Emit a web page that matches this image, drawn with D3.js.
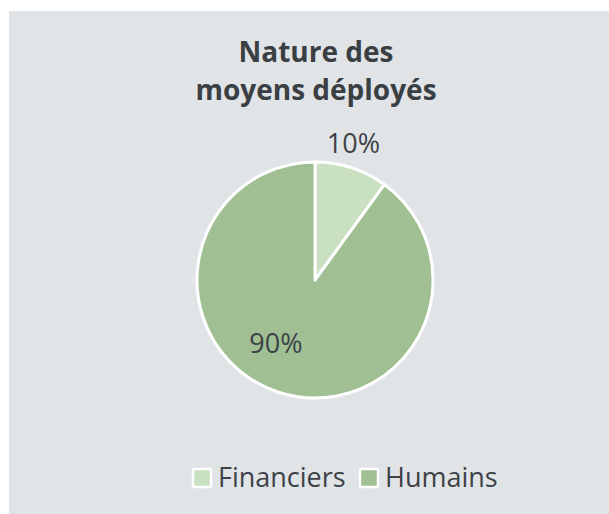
<!DOCTYPE html>
<html>
<head>
<meta charset="utf-8">
<script src="https://cdn.jsdelivr.net/npm/d3@7"></script>
<style>
  body { margin: 0; background: #fff; }
  svg { display: block; font-family: "Open Sans", sans-serif; }
</style>
</head>
<body>
<svg width="609" height="514"></svg>
<script>
const categories = ["Financiers", "Humains"];
const values = [10, 90];
const colors = ["#c9e0c1", "#a0bf93"];
const titleLines = ["Nature des", "moyens déployés"];

const svg = d3.select("svg"),
    width = 609,
    height = 514;

const textColor = "#3d4247";

svg.append("rect")
    .attr("x", 9).attr("y", 11)
    .attr("width", 600).attr("height", 503)
    .attr("fill", "#e1e4e7");

svg.append("text")
    .attr("text-anchor", "middle")
    .attr("fill", "#3a3f44")
    .attr("font-size", 28)
    .attr("font-weight", "bold")
    .selectAll("tspan")
    .data(titleLines)
    .enter().append("tspan")
    .attr("x", 316)
    .attr("y", function(d, i) { return 62 + i * 38; })
    .text(function(d) { return d; });

const cx = 315, cy = 280, r = 118;

const pie = d3.pie().sort(null).value(function(d) { return d.value; });
const arc = d3.arc().innerRadius(0).outerRadius(r);

const data = categories.map(function(c, i) { return { name: c, value: values[i] }; });
const arcs = pie(data);

const g = svg.append("g").attr("transform", "translate(" + cx + "," + cy + ")");

g.selectAll("path")
    .data(arcs)
    .enter().append("path")
    .attr("d", arc)
    .attr("fill", function(d, i) { return colors[i]; })
    .attr("stroke", "#fff")
    .attr("stroke-width", 3)
    .attr("stroke-linejoin", "round");

const total = d3.sum(values);

// small slice labelled just outside, big slice inside (excel "best fit")
function labelPos(d, i) {
    const mid = (d.startAngle + d.endAngle) / 2;
    if (i === 0) return d3.pointRadial(mid - 0.04, r + 24);
    return d3.pointRadial(mid + 0.24, r * 0.63);
}

g.selectAll("text.label")
    .data(arcs)
    .enter().append("text")
    .attr("class", "label")
    .attr("text-anchor", "middle")
    .attr("fill", textColor)
    .attr("font-size", 27)
    .attr("transform", function(d, i) {
        const p = labelPos(d, i);
        return "translate(" + p[0] + "," + (p[1] + 10) + ")";
    })
    .text(function(d) { return Math.round(d.data.value / total * 100) + "%"; });

// legend
const legend = svg.append("g").attr("transform", "translate(193,469)");
const legendX = [0, 167];

const item = legend.selectAll("g")
    .data(categories)
    .enter().append("g")
    .attr("transform", function(d, i) { return "translate(" + legendX[i] + ",0)"; });

item.append("rect")
    .attr("width", 18).attr("height", 18)
    .attr("rx", 1.5)
    .attr("fill", function(d, i) { return colors[i]; })
    .attr("stroke", "#fff")
    .attr("stroke-width", 2.5);

item.append("text")
    .attr("x", 25)
    .attr("y", 18)
    .attr("fill", textColor)
    .attr("font-size", 27)
    .text(function(d) { return d; });
</script>
</body>
</html>
